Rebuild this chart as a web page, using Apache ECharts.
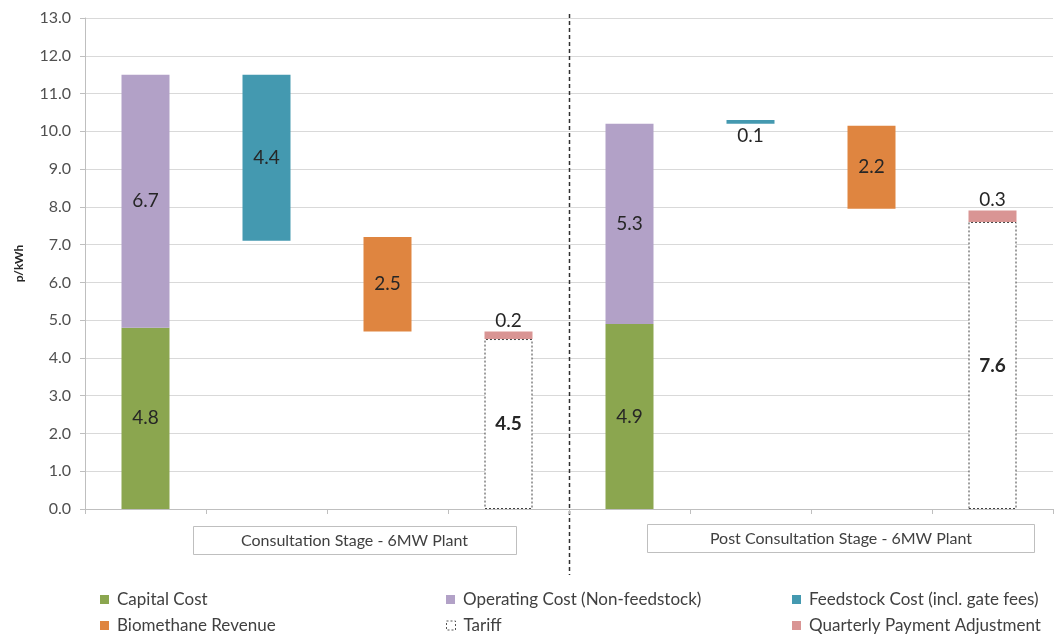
<!DOCTYPE html>
<html><head><meta charset="utf-8">
<script src="https://cdn.jsdelivr.net/npm/echarts@6/dist/echarts.min.js"></script>
<style>html,body{margin:0;padding:0;background:#fff}#c{width:1062px;height:637px}</style>
</head><body><div id="c"></div>
<script>
// Categories: 4 bar positions per stage
const categories = ['C1','C2','C3','C4','P1','P2','P3','P4'];
const groups = ['Consultation Stage - 6MW Plant', 'Post Consultation Stage - 6MW Plant'];
const yTicks = [0,1,2,3,4,5,6,7,8,9,10,11,12,13];
// invisible offsets for floating bars
const baseOffset   = ['-', 7.1, 4.7, '-', '-', 10.2, 7.95, '-'];
const capitalCost  = [4.8, '-', '-', '-', 4.9, '-', '-', '-'];
const operatingCost= [6.7, '-', '-', '-', 5.3, '-', '-', '-'];
const feedstockCost= ['-', 4.4, '-', '-', '-', 0.1, '-', '-'];
const biomethaneRev= ['-', '-', 2.5, '-', '-', '-', 2.2, '-'];
const tariff       = ['-', '-', '-', 4.5, '-', '-', '-', 7.6];
const quarterlyAdj = ['-', '-', '-', 0.2, '-', '-', '-', 0.3];
const legendRows = [
  ['Capital Cost', 'Operating Cost (Non-feedstock)', 'Feedstock Cost (incl. gate fees)'],
  ['Biomethane Revenue', 'Tariff', 'Quarterly Payment Adjustment']
];

const FONT = 'Lato, "Open Sans", sans-serif';
const colors = {
  cap:'#8ba64f', op:'#b2a1c7', feed:'#4499b0', bio:'#df8540', qa:'#d99594'
};
const fmt = p => (typeof p.value === 'number' ? p.value.toFixed(1) : '');
const lbl = (extra) => Object.assign({show:true, position:'inside', formatter:fmt,
  color:'#262626', fontSize:19, fontFamily:FONT}, extra||{});

function items(arr, fn){ return arr.map((v,i)=> v==='-' ? '-' : (fn ? fn(v,i) : v)); }

const chart = echarts.init(document.getElementById('c'), null, {renderer:'canvas'});
const colLeft = [100, 446, 792];
const rowTop = [591, 617];
const legends = [];
legendRows.forEach((row, r) => row.forEach((name, c) => {
  const d = name === 'Tariff'
    ? {name, itemStyle:{color:'#ffffff', borderColor:'#555', borderWidth:1, borderType:[2,2]}}
    : name;
  legends.push({left:colLeft[c], top:rowTop[r], data:[d], itemWidth:9, itemHeight:9, itemGap:6,
    icon:'rect', selectedMode:false, padding:0,
    textStyle:{fontFamily:FONT, fontSize:17, color:'#404040', padding:[0,0,0,3]}});
}));

const option = {
  animation:false,
  grid:{left:85, right:9, top:18, bottom:128, containLabel:false},
  xAxis:{type:'category', data:categories,
    axisLine:{lineStyle:{color:'#bfbfbf'}},
    axisTick:{show:true, length:5, lineStyle:{color:'#bfbfbf'}},
    axisLabel:{show:false}},
  yAxis:{type:'value', min:yTicks[0], max:yTicks[yTicks.length-1], interval:1,
    name:'p/kWh', nameLocation:'middle', nameRotate:90, nameGap:60,
    nameTextStyle:{fontFamily:FONT, fontSize:12, fontWeight:'bold', color:'#262626'},
    axisLine:{show:true, lineStyle:{color:'#bfbfbf'}},
    axisTick:{show:true, length:5, lineStyle:{color:'#bfbfbf'}},
    axisLabel:{formatter:v=>v.toFixed(1), fontFamily:FONT, fontSize:16, color:'#505050', margin:14},
    splitLine:{lineStyle:{color:'#d9d9d9', width:1}}},
  legend:legends,
  series:[
    {name:'base', type:'bar', stack:'s', barWidth:48, data:baseOffset,
      itemStyle:{color:'transparent'}, emphasis:{disabled:true}, silent:true},
    {name:'Capital Cost', type:'bar', stack:'s', data:capitalCost,
      itemStyle:{color:colors.cap}, label:lbl()},
    {name:'Operating Cost (Non-feedstock)', type:'bar', stack:'s', data:operatingCost,
      itemStyle:{color:colors.op}, label:lbl()},
    {name:'Feedstock Cost (incl. gate fees)', type:'bar', stack:'s',
      data:items(feedstockCost,(v)=> v<0.5 ? {value:v, label:{position:'bottom', distance:3}} : v),
      itemStyle:{color:colors.feed}, label:lbl()},
    {name:'Biomethane Revenue', type:'bar', stack:'s', data:biomethaneRev,
      itemStyle:{color:colors.bio}, label:lbl()},
    {name:'Tariff', type:'bar', stack:'s', data:tariff,
      itemStyle:{color:'#ffffff', borderColor:'#404040', borderWidth:1, borderType:[2,2]},
      label:lbl({fontWeight:'bold'})},
    {name:'Quarterly Payment Adjustment', type:'bar', stack:'s', data:quarterlyAdj,
      itemStyle:{color:colors.qa}, label:lbl({position:'top', distance:1})}
  ]
};
chart.setOption(option);

// divider and group label boxes
const xa = chart.convertToPixel({xAxisIndex:0}, 3);
const xb = chart.convertToPixel({xAxisIndex:0}, 4);
const xd = Math.round((xa+xb)/2)+0.5;
const boxText = {fontFamily:FONT, fontSize:16, fill:'#404040'};
chart.setOption({graphic:[
  {type:'line', shape:{x1:xd, y1:14, x2:xd, y2:575}, style:{stroke:'#303030', lineWidth:1.5, lineDash:[4,3]}, silent:true},
  {type:'rect', shape:{x:193.5, y:526.5, width:323, height:28}, style:{fill:'#fff', stroke:'#bfbfbf', lineWidth:1}},
  {type:'text', x:354.5, y:541, style:Object.assign({text:groups[0], align:'center', verticalAlign:'middle'}, boxText)},
  {type:'rect', shape:{x:647.5, y:524.5, width:387, height:28}, style:{fill:'#fff', stroke:'#bfbfbf', lineWidth:1}},
  {type:'text', x:841, y:539, style:Object.assign({text:groups[1], align:'center', verticalAlign:'middle'}, boxText)}
]});
</script></body></html>
